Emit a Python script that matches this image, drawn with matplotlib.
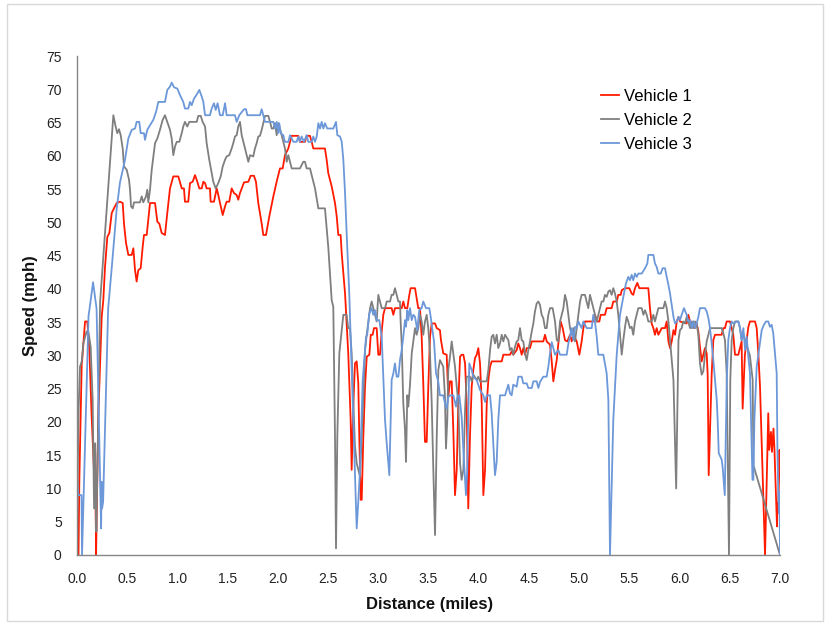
import matplotlib
matplotlib.use("Agg")
import matplotlib.pyplot as plt
from matplotlib.patches import Rectangle

plt.rcParams['font.family'] = ['Liberation Sans', 'DejaVu Sans']

series_names = ["Vehicle 1", "Vehicle 2", "Vehicle 3"]
series_colors = ["#FF1A00", "#7F7F7F", "#6C98DA"]
x_ticks = [0.0, 0.5, 1.0, 1.5, 2.0, 2.5, 3.0, 3.5, 4.0, 4.5, 5.0, 5.5, 6.0, 6.5, 7.0]
y_ticks = [0, 5, 10, 15, 20, 25, 30, 35, 40, 45, 50, 55, 60, 65, 70, 75]

# (distance in miles, speed in mph)
vehicle1 = [
    (0.000, 0), (0.015, 0), (0.023, 11), (0.047, 28.8), (0.050, 29), (0.080, 35.1), (0.103, 35.1),
    (0.123, 30.8), (0.146, 20.8), (0.169, 12.8), (0.179, 12.5), (0.189, 2.8), (0.190, 0),
    (0.212, 20.8), (0.246, 35.8), (0.262, 38.3), (0.279, 43.3), (0.302, 47.8), (0.322, 48.4),
    (0.346, 51.4), (0.368, 52.1), (0.395, 52.9), (0.428, 53.1), (0.455, 52.9), (0.468, 49.8),
    (0.488, 46.9), (0.511, 45.1), (0.545, 45.1), (0.561, 46.1), (0.578, 42.8), (0.594, 41.1),
    (0.610, 42.8), (0.634, 43.1), (0.654, 46.3), (0.667, 48.1), (0.694, 48.1), (0.710, 50.4),
    (0.727, 52.9), (0.777, 52.9), (0.800, 50.1), (0.820, 49.8), (0.843, 48.4), (0.876, 48.1),
    (0.899, 51.4), (0.926, 55.1), (0.959, 56.9), (1.009, 56.9), (1.043, 55.1), (1.065, 55.1),
    (1.075, 53.1), (1.108, 53.1), (1.125, 55.9), (1.152, 56.1), (1.175, 57.1), (1.198, 56.1),
    (1.218, 55.1), (1.242, 55.1), (1.258, 56.1), (1.275, 55.9), (1.291, 55.1), (1.324, 55.1),
    (1.331, 53.1), (1.364, 53.1), (1.391, 55.1), (1.407, 54.1), (1.424, 52.9), (1.451, 51.1),
    (1.474, 52.4), (1.490, 53.1), (1.516, 53.1), (1.540, 55.1), (1.563, 54.4), (1.590, 54.1),
    (1.606, 53.4), (1.623, 54.4), (1.640, 55.1), (1.663, 56.0), (1.706, 56.1), (1.729, 57.0),
    (1.762, 57.0), (1.782, 56.1), (1.805, 52.9), (1.839, 49.8), (1.855, 48.1), (1.882, 48.1),
    (1.915, 50.9), (1.955, 53.9), (1.988, 56.1), (2.021, 58.1), (2.048, 58.1), (2.071, 60.1),
    (2.104, 61.1), (2.121, 62.1), (2.138, 63.0), (2.204, 63.0), (2.220, 62.1), (2.270, 62.1),
    (2.287, 63.0), (2.320, 63.0), (2.337, 62.1), (2.353, 61.1), (2.469, 61.1), (2.486, 59.4),
    (2.502, 57.4), (2.536, 55.4), (2.569, 52.9), (2.586, 50.9), (2.602, 48.1), (2.625, 48.1),
    (2.636, 45.3), (2.652, 42.3), (2.669, 39.3), (2.701, 30.3), (2.725, 20.3), (2.735, 12.8),
    (2.752, 22.8), (2.768, 28.8), (2.785, 29.1), (2.801, 25.8), (2.811, 17.8), (2.825, 8.3),
    (2.835, 8.3), (2.851, 17.8), (2.868, 25.3), (2.885, 29.8), (2.911, 30.1), (2.925, 33.1),
    (2.944, 33.1), (2.957, 34.1), (2.984, 34.1), (3.000, 30.1), (3.017, 30.1), (3.034, 33.6),
    (3.050, 36.1), (3.067, 37.1), (3.133, 37.1), (3.150, 36.1), (3.166, 37.1), (3.233, 37.1),
    (3.249, 38.1), (3.266, 37.1), (3.289, 37.1), (3.309, 39.1), (3.322, 40.1), (3.366, 40.1),
    (3.388, 38.1), (3.398, 37.1), (3.415, 37.1), (3.432, 32.8), (3.448, 25.8), (3.465, 17.0),
    (3.482, 17.0), (3.498, 25.3), (3.515, 32.8), (3.532, 34.8), (3.565, 34.8), (3.582, 34.1),
    (3.614, 33.8), (3.624, 32.3), (3.647, 30.3), (3.681, 30.1), (3.697, 23.8), (3.714, 26.1),
    (3.731, 26.1), (3.747, 18.8), (3.764, 9.0), (3.781, 12.8), (3.797, 22.8), (3.814, 29.8),
    (3.830, 30.1), (3.847, 30.1), (3.864, 28.8), (3.880, 22.8), (3.896, 7.0), (3.913, 17.8),
    (3.930, 25.3), (3.946, 27.8), (3.963, 29.6), (3.980, 30.1), (3.996, 31.1), (4.013, 28.8),
    (4.030, 22.8), (4.046, 9.0), (4.063, 12.8), (4.080, 22.8), (4.096, 26.3), (4.113, 28.3),
    (4.129, 29.1), (4.229, 29.1), (4.245, 30.1), (4.311, 30.1), (4.328, 30.6), (4.344, 30.1),
    (4.378, 30.8), (4.394, 31.8), (4.411, 31.1), (4.428, 30.1), (4.444, 31.1), (4.461, 30.1),
    (4.478, 31.1), (4.511, 31.1), (4.528, 32.1), (4.643, 32.1), (4.660, 33.1), (4.677, 32.1),
    (4.710, 31.6), (4.727, 29.1), (4.743, 26.1), (4.760, 27.8), (4.777, 29.3), (4.793, 31.8),
    (4.816, 35.1), (4.836, 34.1), (4.859, 32.3), (4.882, 32.1), (4.909, 33.1), (4.926, 32.1),
    (4.942, 33.1), (4.976, 32.1), (5.002, 30.1), (5.025, 32.1), (5.042, 34.1), (5.058, 35.1),
    (5.141, 35.1), (5.158, 36.1), (5.175, 35.1), (5.201, 35.1), (5.215, 36.1), (5.257, 36.1),
    (5.274, 37.1), (5.324, 37.1), (5.340, 38.1), (5.374, 38.1), (5.390, 39.1), (5.414, 39.1),
    (5.424, 39.8), (5.457, 40.1), (5.500, 40.1), (5.523, 39.3), (5.539, 39.1), (5.556, 40.1),
    (5.579, 40.9), (5.599, 40.1), (5.689, 40.1), (5.705, 37.1), (5.722, 34.8), (5.739, 34.1),
    (5.755, 33.1), (5.772, 34.1), (5.789, 33.1), (5.822, 34.1), (5.855, 34.1), (5.872, 35.1),
    (5.889, 32.1), (5.905, 31.1), (5.922, 32.1), (5.939, 33.8), (5.955, 33.1), (5.972, 35.1),
    (5.989, 35.8), (6.004, 35.1), (6.071, 34.8), (6.087, 36.1), (6.104, 35.1), (6.121, 34.1),
    (6.137, 35.1), (6.154, 34.1), (6.170, 34.8), (6.187, 33.6), (6.203, 31.3), (6.220, 29.1),
    (6.236, 30.1), (6.253, 31.1), (6.270, 30.3), (6.280, 27.0), (6.290, 12.0), (6.320, 27.3),
    (6.336, 32.3), (6.353, 33.1), (6.419, 33.1), (6.436, 34.1), (6.452, 34.1), (6.469, 35.1),
    (6.502, 35.1), (6.519, 34.1), (6.535, 33.1), (6.552, 30.1), (6.585, 30.1), (6.602, 31.1),
    (6.618, 32.1), (6.628, 22.0), (6.650, 30.0), (6.668, 32.3), (6.685, 34.3), (6.701, 35.1),
    (6.751, 35.1), (6.768, 34.1), (6.785, 30.1), (6.801, 25.3), (6.834, 8.8), (6.851, 0),
    (6.883, 21.3), (6.893, 15.8), (6.910, 18.5), (6.920, 15.5), (6.935, 19.0), (6.945, 15.8),
    (6.960, 8.8), (6.970, 4.3), (6.975, 7.8), (6.980, 6.3), (6.990, 11.3), (6.995, 15.8),
    (7.000, 11.8),
]

vehicle2 = [
    (0.000, 0), (0.006, 11.3), (0.016, 21.8), (0.030, 28.3), (0.047, 29.1), (0.063, 31.8),
    (0.096, 33.6), (0.113, 33.6), (0.136, 31.3), (0.156, 23.3), (0.165, 12.0), (0.170, 7.0),
    (0.180, 16.8), (0.188, 7.0), (0.193, 3.5), (0.230, 38.0), (0.362, 66.1), (0.385, 64.4),
    (0.401, 63.4), (0.418, 64.0), (0.435, 63.1), (0.455, 61.1), (0.468, 58.4), (0.495, 57.9),
    (0.518, 56.4), (0.528, 54.9), (0.538, 52.4), (0.555, 52.1), (0.568, 53.0), (0.627, 53.0),
    (0.644, 53.9), (0.660, 53.0), (0.687, 53.9), (0.700, 54.9), (0.710, 53.0), (0.727, 54.9),
    (0.744, 57.9), (0.760, 59.9), (0.777, 61.9), (0.800, 62.6), (0.826, 63.9), (0.853, 65.4),
    (0.876, 66.1), (0.899, 65.1), (0.926, 63.9), (0.943, 62.6), (0.959, 60.1), (0.976, 61.4),
    (0.993, 62.1), (1.019, 62.1), (1.043, 63.4), (1.058, 64.4), (1.075, 65.1), (1.098, 64.4),
    (1.118, 65.1), (1.192, 65.1), (1.208, 66.0), (1.232, 66.0), (1.251, 65.1), (1.275, 64.4),
    (1.291, 61.9), (1.317, 59.4), (1.341, 57.4), (1.357, 56.1), (1.381, 55.1), (1.407, 55.9),
    (1.431, 56.9), (1.451, 58.4), (1.474, 59.4), (1.490, 59.9), (1.516, 60.1), (1.540, 61.1),
    (1.556, 61.9), (1.573, 62.9), (1.590, 63.1), (1.606, 64.4), (1.623, 65.1), (1.640, 63.1),
    (1.656, 62.1), (1.673, 61.1), (1.690, 60.1), (1.706, 59.1), (1.723, 60.1), (1.755, 59.9),
    (1.772, 61.1), (1.789, 61.9), (1.805, 62.9), (1.822, 63.0), (1.839, 63.9), (1.855, 64.9),
    (1.872, 66.0), (1.905, 66.0), (1.922, 65.1), (1.939, 64.1), (1.955, 64.1), (1.972, 64.9),
    (1.988, 63.1), (2.004, 64.9), (2.021, 64.1), (2.038, 63.1), (2.054, 62.1), (2.071, 61.1),
    (2.088, 59.1), (2.104, 60.1), (2.121, 59.1), (2.138, 58.1), (2.220, 58.1), (2.253, 59.1),
    (2.270, 59.1), (2.287, 58.1), (2.320, 58.1), (2.337, 57.1), (2.353, 56.1), (2.370, 55.1),
    (2.387, 53.6), (2.403, 52.1), (2.469, 52.1), (2.486, 49.1), (2.502, 46.3), (2.519, 42.3),
    (2.536, 38.3), (2.552, 37.3), (2.569, 17.8), (2.579, 1.0), (2.592, 17.8), (2.612, 30.3),
    (2.636, 33.8), (2.652, 36.1), (2.685, 36.1), (2.701, 34.1), (2.718, 34.1), (2.735, 30.3),
    (2.752, 22.8), (2.768, 16.3), (2.785, 13.8), (2.801, 12.8), (2.818, 11.8), (2.835, 17.8),
    (2.851, 23.8), (2.868, 30.8), (2.885, 33.1), (2.901, 35.1), (2.918, 37.1), (2.934, 38.1),
    (2.950, 37.1), (2.967, 36.1), (2.984, 35.1), (3.000, 39.1), (3.017, 38.1), (3.034, 37.1),
    (3.067, 37.1), (3.084, 38.1), (3.117, 38.1), (3.133, 39.1), (3.150, 39.1), (3.166, 40.1),
    (3.183, 39.1), (3.200, 38.1), (3.216, 38.1), (3.222, 35.3), (3.233, 31.8), (3.249, 22.8),
    (3.266, 18.8), (3.276, 14.0), (3.289, 24.0), (3.299, 22.3), (3.316, 25.6), (3.333, 30.3),
    (3.349, 32.1), (3.366, 34.1), (3.382, 33.1), (3.398, 34.1), (3.415, 36.1), (3.432, 35.1),
    (3.448, 33.1), (3.465, 35.1), (3.482, 36.1), (3.498, 34.1), (3.515, 30.3), (3.532, 22.8),
    (3.548, 12.8), (3.565, 3.0), (3.582, 17.8), (3.598, 27.8), (3.614, 29.3), (3.631, 28.8),
    (3.647, 28.3), (3.664, 23.8), (3.674, 16.0), (3.687, 20.3), (3.697, 27.8), (3.714, 29.8),
    (3.731, 32.1), (3.747, 30.3), (3.764, 28.3), (3.781, 25.3), (3.797, 22.8), (3.814, 13.8),
    (3.830, 11.3), (3.847, 12.8), (3.864, 21.8), (3.880, 26.8), (3.913, 26.8), (3.930, 26.1),
    (3.946, 27.1), (3.980, 26.3), (3.996, 26.8), (4.013, 26.1), (4.080, 26.1), (4.096, 27.8),
    (4.113, 30.8), (4.129, 32.8), (4.145, 33.1), (4.162, 31.8), (4.179, 33.1), (4.195, 31.1),
    (4.212, 31.8), (4.229, 33.1), (4.245, 32.1), (4.262, 33.1), (4.295, 32.3), (4.311, 30.8),
    (4.328, 31.1), (4.344, 30.1), (4.361, 31.3), (4.378, 32.1), (4.394, 32.3), (4.411, 34.1),
    (4.428, 32.3), (4.444, 32.1), (4.461, 30.3), (4.478, 29.3), (4.494, 30.8), (4.511, 32.1),
    (4.528, 33.6), (4.544, 34.8), (4.560, 36.6), (4.577, 37.8), (4.594, 38.1), (4.610, 37.6),
    (4.627, 36.1), (4.643, 35.6), (4.660, 34.1), (4.677, 34.1), (4.693, 36.1), (4.710, 37.1),
    (4.736, 37.1), (4.760, 35.1), (4.777, 32.3), (4.793, 32.1), (4.810, 35.1), (4.826, 36.1),
    (4.843, 37.1), (4.859, 39.1), (4.876, 38.1), (4.893, 36.1), (4.909, 34.1), (4.926, 33.1),
    (4.942, 34.1), (4.959, 32.1), (4.976, 34.1), (4.992, 36.1), (5.009, 38.1), (5.025, 39.1),
    (5.058, 39.1), (5.075, 38.1), (5.091, 37.1), (5.108, 39.1), (5.125, 38.1), (5.141, 37.1),
    (5.158, 36.1), (5.175, 35.1), (5.191, 36.1), (5.207, 37.1), (5.224, 38.1), (5.241, 38.1),
    (5.257, 39.1), (5.274, 38.8), (5.291, 39.6), (5.307, 39.8), (5.324, 39.1), (5.340, 40.1),
    (5.357, 39.3), (5.374, 38.1), (5.390, 36.1), (5.407, 33.1), (5.424, 30.1), (5.440, 32.3),
    (5.457, 34.3), (5.473, 35.8), (5.489, 35.1), (5.506, 34.1), (5.523, 34.3), (5.539, 33.1),
    (5.556, 35.1), (5.573, 36.1), (5.589, 37.1), (5.623, 37.1), (5.640, 36.1), (5.656, 36.8),
    (5.673, 36.1), (5.689, 35.1), (5.722, 35.1), (5.739, 36.1), (5.755, 35.1), (5.772, 36.1),
    (5.789, 37.1), (5.839, 37.1), (5.855, 38.1), (5.872, 37.1), (5.889, 35.1), (5.905, 32.3),
    (5.922, 29.3), (5.939, 26.3), (5.966, 10.0), (5.989, 32.3), (6.004, 33.8), (6.021, 34.1),
    (6.037, 35.1), (6.054, 34.8), (6.071, 35.8), (6.087, 35.1), (6.104, 34.1), (6.121, 35.1),
    (6.137, 34.1), (6.154, 35.1), (6.170, 34.8), (6.187, 33.1), (6.203, 28.8), (6.220, 27.1),
    (6.236, 27.6), (6.253, 30.1), (6.270, 32.1), (6.287, 33.1), (6.303, 34.1), (6.419, 34.1),
    (6.436, 33.3), (6.452, 32.3), (6.469, 27.3), (6.485, 9.0), (6.492, 0), (6.505, 26.3),
    (6.519, 32.3), (6.535, 34.1), (6.552, 35.1), (6.585, 35.1), (6.602, 34.1), (6.618, 32.3),
    (6.635, 33.3), (6.652, 32.3), (6.700, 30.0), (6.728, 26.3), (6.735, 13.5), (7.000, 0),
]

vehicle3 = [
    (0.003, 11), (0.013, 9), (0.045, 9), (0.050, 0), (0.115, 36), (0.125, 37), (0.160, 41),
    (0.195, 37), (0.240, 4), (0.245, 11), (0.250, 7), (0.260, 8), (0.310, 37), (0.345, 43),
    (0.395, 52), (0.428, 56), (0.478, 59.4), (0.511, 62.6), (0.545, 63.9), (0.578, 64.1),
    (0.594, 65.1), (0.620, 65.1), (0.634, 63.4), (0.667, 63.4), (0.677, 62.4), (0.700, 63.9),
    (0.727, 64.6), (0.760, 65.4), (0.787, 66.6), (0.810, 68.1), (0.876, 68.1), (0.899, 69.9),
    (0.926, 70.4), (0.943, 71.0), (0.966, 70.3), (0.999, 70.1), (1.026, 69.1), (1.058, 68.1),
    (1.075, 67.1), (1.108, 67.1), (1.125, 68.1), (1.142, 67.6), (1.165, 68.6), (1.192, 69.2),
    (1.218, 69.9), (1.242, 68.9), (1.258, 68.1), (1.275, 66.1), (1.324, 66.1), (1.341, 67.1),
    (1.364, 67.9), (1.381, 66.9), (1.400, 67.9), (1.424, 66.1), (1.451, 66.1), (1.474, 67.9),
    (1.490, 66.1), (1.573, 66.1), (1.590, 65.1), (1.616, 66.1), (1.663, 67.0), (1.683, 67.0),
    (1.696, 66.1), (1.822, 66.1), (1.839, 67.0), (1.855, 66.1), (1.872, 65.1), (1.955, 65.1),
    (1.972, 64.1), (1.988, 65.1), (2.004, 63.4), (2.014, 64.9), (2.028, 63.4), (2.054, 63.1),
    (2.071, 62.1), (2.104, 62.1), (2.121, 63.1), (2.154, 62.1), (2.187, 62.1), (2.204, 62.9),
    (2.220, 62.1), (2.237, 62.9), (2.260, 62.1), (2.287, 63.1), (2.303, 62.1), (2.337, 62.1),
    (2.353, 62.9), (2.370, 62.1), (2.387, 62.9), (2.403, 64.9), (2.420, 64.1), (2.436, 65.1),
    (2.453, 64.1), (2.469, 64.9), (2.492, 64.1), (2.552, 64.1), (2.579, 65.1), (2.592, 63.1),
    (2.619, 62.9), (2.636, 62.1), (2.652, 59.4), (2.669, 54.4), (2.685, 48.4), (2.711, 39.3),
    (2.785, 4.0), (2.800, 7.8), (2.818, 12.8), (2.845, 26.3), (2.878, 32.8), (2.890, 33.1),
    (2.910, 36.3), (2.934, 37.1), (2.950, 36.1), (2.967, 36.8), (2.984, 35.3), (3.010, 35.3),
    (3.034, 32.8), (3.067, 20.3), (3.084, 16.8), (3.110, 12.0), (3.133, 26.3), (3.150, 27.3),
    (3.166, 28.8), (3.183, 26.8), (3.200, 26.8), (3.216, 29.3), (3.233, 30.8), (3.249, 32.8),
    (3.266, 35.3), (3.276, 34.3), (3.289, 36.8), (3.299, 35.3), (3.316, 37.1), (3.333, 35.3),
    (3.349, 36.1), (3.366, 35.8), (3.388, 33.8), (3.408, 36.8), (3.432, 37.1), (3.448, 38.1),
    (3.475, 37.1), (3.508, 37.1), (3.522, 35.8), (3.532, 34.6), (3.555, 32.1), (3.575, 27.3),
    (3.597, 26.1), (3.614, 24.0), (3.647, 24.0), (3.664, 22.8), (3.681, 22.0), (3.697, 23.8),
    (3.721, 24.0), (3.747, 24.0), (3.774, 22.3), (3.787, 23.8), (3.807, 24.0), (3.830, 20.8),
    (3.847, 15.8), (3.873, 9.0), (3.886, 12.8), (3.906, 28.8), (3.930, 27.8), (3.946, 26.8),
    (3.980, 26.3), (4.013, 24.8), (4.046, 24.0), (4.063, 23.0), (4.080, 24.0), (4.113, 24.0),
    (4.129, 21.3), (4.145, 16.8), (4.162, 12.0), (4.179, 14.0), (4.195, 20.3), (4.212, 24.0),
    (4.262, 24.0), (4.295, 25.6), (4.311, 24.3), (4.328, 24.0), (4.344, 25.6), (4.378, 25.3),
    (4.394, 26.8), (4.428, 26.8), (4.444, 25.8), (4.478, 25.8), (4.494, 25.1), (4.528, 25.1),
    (4.544, 26.1), (4.577, 26.1), (4.594, 25.1), (4.610, 26.0), (4.643, 26.8), (4.677, 26.8),
    (4.693, 28.3), (4.710, 30.3), (4.727, 32.0), (4.760, 30.1), (4.793, 30.8), (4.810, 30.1),
    (4.876, 30.1), (4.893, 31.8), (4.926, 34.1), (4.942, 32.3), (4.959, 34.3), (4.976, 34.1),
    (4.992, 35.1), (5.025, 34.1), (5.042, 35.1), (5.075, 34.1), (5.125, 34.1), (5.141, 36.1),
    (5.158, 35.0), (5.175, 32.8), (5.191, 30.1), (5.241, 30.1), (5.274, 27.3), (5.291, 23.3),
    (5.307, 0), (5.340, 20.3), (5.374, 30.1), (5.407, 36.1), (5.440, 38.8), (5.466, 40.8),
    (5.489, 41.8), (5.506, 41.3), (5.523, 42.1), (5.539, 41.3), (5.556, 42.3), (5.573, 41.8),
    (5.589, 42.3), (5.623, 42.3), (5.656, 43.1), (5.679, 43.8), (5.689, 45.1), (5.739, 45.1),
    (5.755, 43.8), (5.772, 43.3), (5.789, 42.3), (5.812, 42.3), (5.832, 43.1), (5.855, 43.1),
    (5.872, 41.8), (5.889, 40.6), (5.905, 39.3), (5.922, 37.6), (5.939, 35.8), (5.955, 34.8),
    (5.972, 35.1), (5.989, 35.8), (6.004, 35.3), (6.021, 36.1), (6.044, 37.1), (6.071, 36.1),
    (6.087, 35.1), (6.104, 35.3), (6.121, 34.1), (6.137, 35.1), (6.154, 34.1), (6.170, 34.8),
    (6.187, 35.8), (6.203, 37.1), (6.253, 37.1), (6.270, 36.6), (6.287, 35.6), (6.303, 34.1),
    (6.320, 31.8), (6.336, 29.3), (6.353, 26.3), (6.370, 23.3), (6.380, 20.0), (6.390, 15.3),
    (6.420, 14.3), (6.430, 13.0), (6.450, 9.0), (6.470, 26.3), (6.485, 32.3), (6.502, 34.1),
    (6.519, 35.1), (6.535, 34.8), (6.569, 35.1), (6.585, 35.1), (6.602, 34.1), (6.618, 32.3),
    (6.635, 34.1), (6.652, 30.8), (6.668, 32.8), (6.685, 29.8), (6.701, 27.3), (6.726, 11.3),
    (6.735, 11.3), (6.745, 20.3), (6.768, 28.3), (6.800, 31.8), (6.818, 33.8), (6.840, 34.6),
    (6.861, 35.1), (6.883, 35.1), (6.900, 34.3), (6.917, 34.6), (6.933, 33.3), (6.950, 30.3),
    (6.967, 27.3), (6.975, 15.0), (6.984, 8.8), (6.990, 6.3), (6.995, 9.5), (7.000, 0),
]

W, H = 825, 623
fig = plt.figure(figsize=(W / 100, H / 100), dpi=100)
fig.patch.set_facecolor("white")

# chart border
fig.patches.append(Rectangle((7 / W, 2 / H), (823 - 7) / W, (619 - 2) / H,
                             transform=fig.transFigure, fill=False,
                             edgecolor="#D9D9D9", linewidth=1.0))

ax = fig.add_axes([77 / W, 1 - 555 / H, (780 - 77) / W, (555 - 56) / H])

for name, color, pts in zip(series_names, series_colors, [vehicle1, vehicle2, vehicle3]):
    xs = [p[0] for p in pts]
    ys = [p[1] for p in pts]
    ax.plot(xs, ys, color=color, linewidth=1.3, label=name, solid_joinstyle="round")

ax.set_xlim(0, 7)
ax.set_ylim(0, 75)
ax.set_xticks(x_ticks)
ax.set_xticklabels([f"{t:.1f}" for t in x_ticks])
ax.set_yticks(y_ticks)
ax.set_yticklabels([str(t) for t in y_ticks])
ax.tick_params(axis="both", length=0, labelsize=10, colors="#222222")
ax.tick_params(axis="x", pad=12)
ax.tick_params(axis="y", pad=11)
for s in ["top", "right"]:
    ax.spines[s].set_visible(False)
for s in ["left", "bottom"]:
    ax.spines[s].set_color("#868686")
    ax.spines[s].set_linewidth(1.0)

fig.text(30 / W, 1 - 306 / H, "Speed (mph)", rotation=90, ha="center", va="center",
         fontsize=12, fontweight="bold", color="#111111")
fig.text(430 / W, 1 - 605 / H, "Distance (miles)", ha="center", va="center",
         fontsize=12, fontweight="bold", color="#111111")

leg = ax.legend(loc="upper left", bbox_to_anchor=(601 / W, 1 - 89 / H),
                bbox_transform=fig.transFigure, frameon=False, fontsize=12,
                handlelength=1.1, handletextpad=0.3, labelspacing=0.55,
                borderpad=0, borderaxespad=0)

fig.savefig("out.png", dpi=100)
